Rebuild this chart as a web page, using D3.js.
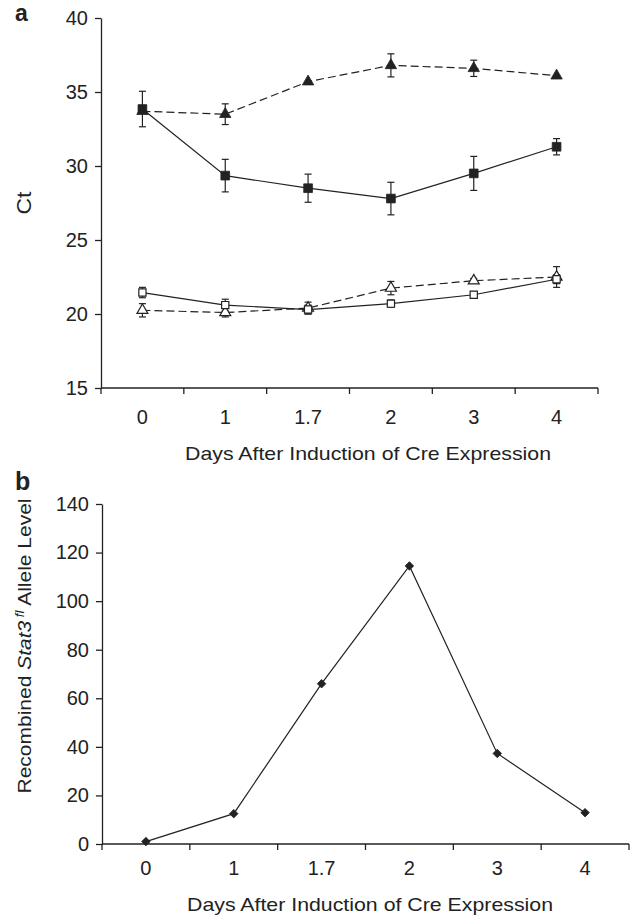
<!DOCTYPE html>
<html>
<head>
<meta charset="utf-8">
<script src="https://cdn.jsdelivr.net/npm/d3@7"></script>
<style>
  html, body { margin: 0; padding: 0; background: #fff; }
  svg { display: block; }
  text { font-family: "Liberation Sans", Arial, Helvetica, sans-serif; fill: #222; }
</style>
</head>
<body>
<svg id="chart" width="637" height="918"></svg>
<script>
// ---------- data ----------
const days = ["0", "1", "1.7", "2", "3", "4"];

// Panel a: Ct values (mean) and error (±)
const filledSquare = [33.85, 29.35, 28.5, 27.8, 29.5, 31.3];
const filledSquareErr = [1.2, 1.1, 0.95, 1.1, 1.15, 0.55];
const filledTriangle = [33.7, 33.5, 35.7, 36.8, 36.6, 36.1];
const filledTriangleErr = [0, 0.7, 0, 0.78, 0.55, 0];
const openSquare = [21.45, 20.6, 20.3, 20.7, 21.3, 22.35];
const openSquareErr = [0.35, 0.4, 0.3, 0.25, 0.2, 0.3];
const openTriangle = [20.25, 20.1, 20.4, 21.75, 22.25, 22.5];
const openTriangleErr = [0.45, 0.3, 0.4, 0.45, 0.15, 0.7];

const ctTicks = [15, 20, 25, 30, 35, 40];

// Panel b: recombined Stat3 fl allele level
const recombined = [1, 12.5, 66, 114.5, 37.3, 12.9];
const levelTicks = [0, 20, 40, 60, 80, 100, 120, 140];

const xTitle = "Days After Induction of Cre Expression";

// ---------- drawing ----------
const svg = d3.select("#chart");
const ink = "#222";
const FONT = 20;

function bottomAxis(g, x, yPix, labelBaseline) {
  const [r0, r1] = x.range();
  g.append("line").attr("x1", r0).attr("x2", r1).attr("y1", yPix).attr("y2", yPix)
    .attr("stroke", ink).attr("stroke-width", 1.3);
  const bounds = days.map(d => x(d)).concat([r1]);
  g.selectAll(".bt").data(bounds).join("line")
    .attr("x1", d => d).attr("x2", d => d)
    .attr("y1", yPix).attr("y2", yPix + 6)
    .attr("stroke", ink).attr("stroke-width", 1.3);
  g.selectAll(".bl").data(days).join("text")
    .attr("x", d => x(d) + x.bandwidth() / 2)
    .attr("y", labelBaseline)
    .attr("text-anchor", "middle")
    .attr("font-size", FONT)
    .text(d => d);
}

function leftAxis(g, y, xPix, ticks) {
  const ax = d3.axisLeft(y).tickValues(ticks).tickSize(6).tickPadding(7).tickSizeOuter(0);
  const a = g.append("g").attr("transform", `translate(${xPix},0)`).call(ax);
  a.select(".domain").attr("stroke", ink).attr("stroke-width", 1.3);
  a.selectAll(".tick line").attr("stroke", ink).attr("stroke-width", 1.3);
  a.selectAll(".tick text").attr("font-size", FONT).attr("fill", ink)
    .attr("font-family", '"Liberation Sans", Arial, sans-serif');
}

// ===== Panel a =====
const gA = svg.append("g");
const xA = d3.scaleBand().domain(days).range([101, 598]);
const yA = d3.scaleLinear().domain([15, 40]).range([388, 18]);
const cxA = d => xA(d) + xA.bandwidth() / 2;

leftAxis(gA, yA, 101, ctTicks);
bottomAxis(gA, xA, 388, 424);

const seriesA = [
  { vals: filledTriangle, err: filledTriangleErr, dash: "8,4", marker: "tri", fill: ink },
  { vals: openTriangle, err: openTriangleErr, dash: "8,4", marker: "tri", fill: "#fff" },
  { vals: openSquare, err: openSquareErr, dash: null, marker: "sq", fill: "#fff" },
  { vals: filledSquare, err: filledSquareErr, dash: null, marker: "sq", fill: ink },
];

const lineA = d3.line().x((v, i) => cxA(days[i])).y(v => yA(v));

seriesA.forEach(s => {
  gA.append("path").attr("d", lineA(s.vals))
    .attr("fill", "none").attr("stroke", ink).attr("stroke-width", 1.2)
    .attr("stroke-dasharray", s.dash);
});

seriesA.forEach(s => {
  const eg = gA.append("g");
  s.vals.forEach((v, i) => {
    const e = s.err[i];
    if (!e) return;
    const cx = cxA(days[i]);
    eg.append("line").attr("x1", cx).attr("x2", cx).attr("y1", yA(v + e)).attr("y2", yA(v - e))
      .attr("stroke", ink).attr("stroke-width", 1.2);
    [v + e, v - e].forEach(w => {
      eg.append("line").attr("x1", cx - 3.5).attr("x2", cx + 3.5).attr("y1", yA(w)).attr("y2", yA(w))
        .attr("stroke", ink).attr("stroke-width", 1.2);
    });
  });
});

seriesA.forEach(s => {
  const filled = s.fill !== "#fff";
  const type = s.marker === "tri" ? d3.symbolTriangle : d3.symbolSquare;
  const size = s.marker === "tri" ? (filled ? 56 : 52) : (filled ? 76 : 52);
  const sym = d3.symbol().type(type).size(size);
  gA.selectAll(null).data(s.vals).join("path")
    .attr("d", sym)
    .attr("transform", (v, i) => `translate(${cxA(days[i])},${yA(v)})`)
    .attr("fill", s.fill)
    .attr("stroke", ink)
    .attr("stroke-width", filled ? 0.8 : 1.2);
});

gA.append("text").attr("x", 368).attr("y", 460).attr("text-anchor", "middle")
  .attr("font-size", 19).attr("textLength", 366).attr("lengthAdjust", "spacingAndGlyphs")
  .text(xTitle);

gA.append("text").attr("transform", "translate(31,203) rotate(-90)")
  .attr("text-anchor", "middle").attr("font-size", 20).attr("textLength", 23)
  .attr("lengthAdjust", "spacingAndGlyphs").text("Ct");

svg.append("text").attr("x", 15).attr("y", 21).attr("font-size", 23)
  .attr("font-weight", "bold").text("a");

// ===== Panel b =====
const gB = svg.append("g");
const xB = d3.scaleBand().domain(days).range([102, 629]);
const yB = d3.scaleLinear().domain([0, 140]).range([844, 504]);
const cxB = d => xB(d) + xB.bandwidth() / 2;

leftAxis(gB, yB, 102, levelTicks);
bottomAxis(gB, xB, 844, 875);

const lineB = d3.line().x((v, i) => cxB(days[i])).y(v => yB(v));
gB.append("path").attr("d", lineB(recombined))
  .attr("fill", "none").attr("stroke", ink).attr("stroke-width", 1.2);

const diamond = d3.symbol().type(d3.symbolSquare).size(36);
gB.selectAll(null).data(recombined).join("path")
  .attr("d", diamond)
  .attr("transform", (v, i) => `translate(${cxB(days[i])},${yB(v)}) rotate(45)`)
  .attr("fill", ink).attr("stroke", ink).attr("stroke-width", 0.8);

gB.append("text").attr("x", 370).attr("y", 911).attr("text-anchor", "middle")
  .attr("font-size", 19).attr("textLength", 366).attr("lengthAdjust", "spacingAndGlyphs")
  .text(xTitle);

const yl = gB.append("text").attr("transform", "translate(31,646) rotate(-90)")
  .attr("text-anchor", "middle").attr("font-size", 19)
  .attr("textLength", 295).attr("lengthAdjust", "spacingAndGlyphs");
yl.append("tspan").text("Recombined ");
yl.append("tspan").attr("font-style", "italic").text("Stat3");
yl.append("tspan").attr("font-style", "italic").attr("font-size", 12).attr("dy", -7).text(" fl");
yl.append("tspan").attr("dy", 7).text(" Allele Level");

svg.append("text").attr("x", 15).attr("y", 490).attr("font-size", 25)
  .attr("font-weight", "bold").text("b");
</script>
</body>
</html>
